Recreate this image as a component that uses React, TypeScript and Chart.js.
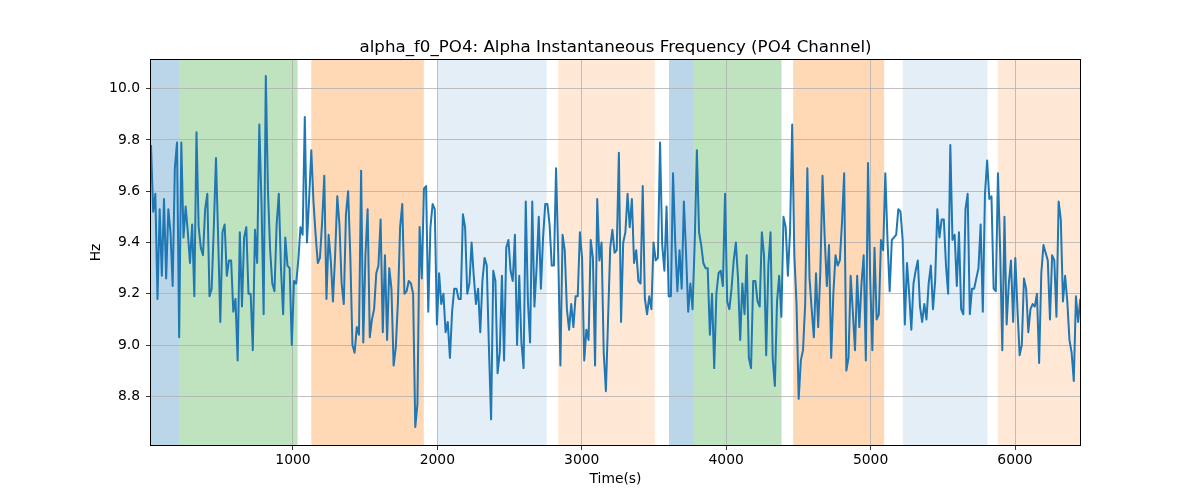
import React, { useEffect, useRef } from "react";
import { Chart, registerables } from "chart.js";

Chart.register(...registerables);

const TITLE = "alpha_f0_PO4: Alpha Instantaneous Frequency (PO4 Channel)";
const X_LABEL = "Time(s)";
const Y_LABEL = "Hz";

// sampling of the series (seconds)
const START_TIME = 17;
const SAMPLE_STEP = 15;
const X_MIN = 17;
const X_MAX = 6450;
const Y_MIN = 8.61;
const Y_MAX = 10.112;

const X_TICKS = [1000, 2000, 3000, 4000, 5000, 6000];
const Y_TICKS = [8.8, 9.0, 9.2, 9.4, 9.6, 9.8, 10.0];

// instantaneous alpha frequency (Hz)
const FREQ = [
  9.78, 9.52, 9.59, 9.18, 9.53, 9.27, 9.57, 9.26, 9.53, 9.44,
  9.23, 9.69, 9.79, 9.03, 9.79, 9.42, 9.54, 9.44, 9.32, 9.47,
  9.19, 9.83, 9.46, 9.38, 9.35, 9.53, 9.59, 9.19, 9.22, 9.46,
  9.73, 9.42, 9.09, 9.44, 9.47, 9.27, 9.33, 9.33, 9.13, 9.18,
  8.94, 9.44, 9.15, 9.42, 9.46, 9.20, 9.20, 8.98, 9.45, 9.32,
  9.86, 9.56, 9.12, 10.05, 9.60, 9.37, 9.24, 9.21, 9.47, 9.59,
  9.30, 9.12, 9.42, 9.31, 9.30,
  9.00, 9.25, 9.24, 9.33, 9.46, 9.43, 9.89, 9.40, 9.57, 9.76,
  9.56, 9.43, 9.32, 9.34, 9.48, 9.66, 9.18, 9.43, 9.33, 9.17,
  9.35, 9.58, 9.47, 9.24, 9.16, 9.51, 9.60, 9.35, 9.00, 8.97,
  9.07, 9.04, 9.68, 9.01, 9.35, 9.53, 9.03, 9.10, 9.14, 9.28,
  9.31, 9.49, 9.05, 9.35, 9.02, 9.30, 9.22, 8.92, 8.99, 9.17,
  9.46, 9.55, 9.20, 9.21, 9.25, 9.24, 9.20, 8.68, 8.77, 9.46,
  9.26, 9.61, 9.62, 9.13, 9.46, 9.55, 9.53, 9.08, 9.28,
  9.16, 9.20, 9.05, 9.09, 8.95, 9.13, 9.22, 9.22, 9.18, 9.18,
  9.51, 9.46, 9.20, 9.24, 9.40, 9.27, 9.16, 9.22, 9.05, 9.25,
  9.34, 9.31, 8.99, 8.71, 9.29, 9.25, 8.89, 8.97, 9.27, 8.94,
  9.38, 9.41, 9.29, 9.25, 9.43, 9.00, 9.27, 9.01, 8.91, 9.56,
  9.17, 9.01, 9.56, 9.15, 9.30, 9.50, 9.22, 9.42, 9.55, 9.55,
  9.47, 9.31, 9.31, 9.69, 9.35, 8.92, 9.43, 9.37, 9.14, 9.06,
  9.16, 9.07, 9.19, 9.19, 9.44, 9.34, 8.94, 9.06, 9.02,
  9.41, 9.34, 8.92, 9.57, 9.33, 9.40, 8.97, 8.82, 9.10, 9.38,
  9.45, 9.36, 9.37, 9.75, 9.09, 9.40, 9.44, 9.59, 9.46, 9.57,
  9.32, 9.37, 9.25, 9.24, 9.62, 9.18, 9.12, 9.19, 9.14, 9.40,
  9.33, 9.34, 9.79, 9.39, 9.29, 9.54, 9.19, 9.19, 9.67, 9.40,
  9.21, 9.37, 9.22, 9.56, 9.36, 9.13, 9.24, 9.14, 9.40, 9.76,
  9.44, 9.39, 9.32, 9.30, 9.30, 9.04, 9.20, 8.91, 9.20, 9.28,
  9.29, 9.23, 9.59, 9.17, 9.14, 9.22, 9.33, 9.40, 9.26, 9.02,
  9.24, 9.12, 9.35, 8.95, 8.91, 9.25, 9.25, 9.17, 9.15, 9.44,
  9.35, 8.96, 9.31, 9.44, 8.95, 8.84, 9.17, 9.27, 9.11, 9.50,
  9.46, 9.27, 9.44, 9.86, 9.35, 9.16, 8.79, 8.94, 8.98, 9.16,
  9.69, 9.26, 9.14, 9.03, 9.28, 9.07, 9.29, 9.66, 9.42, 9.23,
  9.39, 8.95, 9.20, 9.35, 9.31, 9.33, 9.48, 9.67, 8.90, 8.95,
  9.27, 9.13, 8.98, 9.27, 9.07, 9.24, 9.35, 8.94, 9.71, 9.26,
  8.98, 9.38, 9.10, 9.12, 9.41, 9.37, 9.67, 9.41, 9.21,
  9.41, 9.42, 9.43, 9.53, 9.52, 9.41, 9.08, 9.32, 9.20, 9.06,
  9.24, 9.29, 9.33, 9.15, 9.09, 9.16, 9.10, 9.24, 9.31, 9.14,
  9.25, 9.53, 9.42, 9.49, 9.49, 9.31, 9.20, 9.78, 9.41, 9.43,
  9.23, 9.44, 9.14, 9.12, 9.53, 9.59, 9.12, 9.22, 9.22, 9.26,
  9.30, 9.47, 9.13, 9.59, 9.72, 9.57, 9.58, 9.22, 9.21, 9.67,
  9.37, 8.98, 9.50, 9.08, 9.24, 9.33, 9.09, 9.34, 9.14, 8.96,
  9.00, 9.26, 9.22, 9.05, 9.14, 9.16, 9.15, 9.20, 8.93, 9.28,
  9.39, 9.36, 9.33, 9.10, 9.35, 9.33, 9.11, 9.56, 9.49, 9.17,
  9.27, 9.17, 9.02, 8.97, 8.86, 9.19, 9.09, 9.18,
];

// shaded segments (seconds)
const BAND_START = [0, 211, 1127, 2003, 2836, 3604, 3775, 4464, 5223, 5880];
const BAND_END = [211, 1032, 1906, 2757, 3505, 3775, 4383, 5094, 5809, 6500];
const BAND_KIND = ["blue", "green", "orange", "lightblue", "lightorange", "blue", "green", "orange", "lightblue", "lightorange"];

const BAND_FILL: Record<string, string> = {
  blue: "rgba(31,119,180,0.3)",
  green: "rgba(44,160,44,0.3)",
  orange: "rgba(255,127,14,0.3)",
  lightblue: "rgba(31,119,180,0.12)",
  lightorange: "rgba(255,127,14,0.17)",
};

const FONT = "'DejaVu Sans', 'Liberation Sans', sans-serif";

const bandsPlugin = {
  id: "bands",
  beforeDraw(chart: any) {
    const { ctx, chartArea, scales } = chart;
    const xs = scales.x;
    ctx.save();
    for (let i = 0; i < BAND_START.length; i++) {
      const x0 = Math.max(xs.getPixelForValue(BAND_START[i]), chartArea.left);
      const x1 = Math.min(xs.getPixelForValue(BAND_END[i]), chartArea.right);
      if (x1 <= x0) continue;
      ctx.fillStyle = BAND_FILL[BAND_KIND[i]];
      ctx.fillRect(x0, chartArea.top, x1 - x0, chartArea.bottom - chartArea.top);
    }
    ctx.restore();
  },
};

const frameTextPlugin = {
  id: "frameText",
  afterDraw(chart: any) {
    const { ctx, chartArea } = chart;
    const { left, right, top, bottom } = chartArea;
    ctx.save();
    ctx.strokeStyle = "#000";
    ctx.lineWidth = 1;
    ctx.strokeRect(left - 0.5, top - 0.5, right - left + 1, bottom - top + 1);

    ctx.fillStyle = "#000";
    ctx.textAlign = "center";
    ctx.textBaseline = "alphabetic";
    ctx.font = `16.67px ${FONT}`;
    ctx.fillText(TITLE, (left + right) / 2, 52);

    ctx.font = `13.89px ${FONT}`;
    ctx.textBaseline = "middle";
    ctx.fillText(X_LABEL, (left + right) / 2, 479);

    ctx.translate(96, (top + bottom) / 2);
    ctx.rotate(-Math.PI / 2);
    ctx.fillText(Y_LABEL, 0, 0);
    ctx.restore();
  },
};

export default function App() {
  const canvasRef = useRef<HTMLCanvasElement | null>(null);

  useEffect(() => {
    const canvas = canvasRef.current;
    if (!canvas) return;
    const points = FREQ.map((v, i) => ({ x: START_TIME + i * SAMPLE_STEP, y: v }));
    const tickFont = { family: FONT, size: 13.89 };
    const chart = new Chart(canvas, {
      type: "line",
      data: {
        datasets: [
          {
            data: points,
            borderColor: "#1f77b4",
            backgroundColor: "#1f77b4",
            borderWidth: 2,
            pointRadius: 0,
            tension: 0,
            fill: false,
            borderJoinStyle: "round",
          },
        ],
      },
      options: {
        responsive: false,
        animation: false,
        devicePixelRatio: 1,
        layout: { padding: { top: 60, right: 120, bottom: 0, left: 0 } },
        plugins: {
          legend: { display: false },
          tooltip: { enabled: false },
          title: { display: false },
        },
        scales: {
          x: {
            type: "linear",
            min: X_MIN,
            max: X_MAX,
            afterFit(scale: any) {
              scale.height = 55;
            },
            afterBuildTicks(scale: any) {
              scale.ticks = X_TICKS.map((v) => ({ value: v }));
            },
            ticks: {
              autoSkip: false,
              maxRotation: 0,
              color: "#000",
              font: tickFont,
              padding: 2,
              callback: (v: any) => String(v),
            },
            grid: {
              color: "#b0b0b0",
              lineWidth: 0.8,
              tickColor: "#000",
              tickLength: 5,
              drawTicks: true,
            },
            border: { display: false },
          },
          y: {
            type: "linear",
            min: Y_MIN,
            max: Y_MAX,
            afterFit(scale: any) {
              scale.width = 151;
            },
            afterBuildTicks(scale: any) {
              scale.ticks = Y_TICKS.map((v) => ({ value: v }));
            },
            ticks: {
              autoSkip: false,
              color: "#000",
              font: tickFont,
              padding: 6,
              callback: (v: any) => Number(v).toFixed(1),
            },
            grid: {
              color: "#b0b0b0",
              lineWidth: 0.8,
              tickColor: "#000",
              tickLength: 5,
              drawTicks: true,
            },
            border: { display: false },
          },
        },
      },
      plugins: [bandsPlugin, frameTextPlugin],
    } as any);
    return () => chart.destroy();
  }, []);

  return (
    <div style={{ position: "absolute", left: 0, top: 0, width: 1200, height: 500, background: "#fff" }}>
      <canvas ref={canvasRef} width={1200} height={500} style={{ width: 1200, height: 500, display: "block" }} />
    </div>
  );
}
